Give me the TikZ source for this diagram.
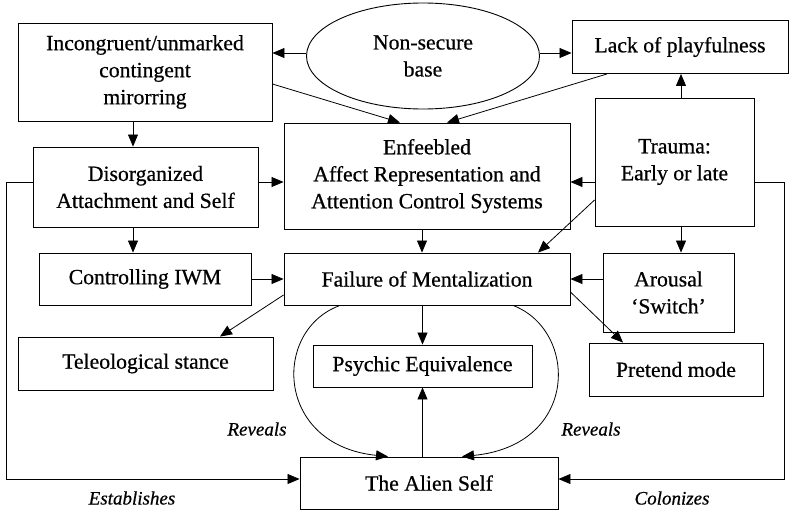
\documentclass[tikz,border=0pt]{standalone}
\usepackage{fontspec}
\setmainfont{Liberation Serif}[FakeBold=0.6]
\usetikzlibrary{arrows.meta,shapes.geometric,calc}
\begin{document}
\begin{tikzpicture}[x=1pt,y=-1pt,
  box/.style={draw,line width=0.9pt,align=center,inner sep=2pt,font=\fontsize{21.7}{27}\selectfont},
  lbl/.style={font=\fontsize{19}{22}\selectfont\itshape},
  arr/.style={line width=0.8pt,-{Triangle[length=12pt,width=10pt]}}]
\useasboundingbox (0,0) rectangle (789,511);
\node[box,minimum width=254pt,minimum height=98pt] (inc) at (145,72) {Incongruent/unmarked\\contingent\\mirorring};
\node[box,ellipse,minimum width=233pt,minimum height=106pt] (nsb) at (423,56) {Non-secure\\base};
\node[box,minimum width=216pt,minimum height=53pt] (lack) at (680,47) {Lack of playfulness};
\node[box,minimum width=159pt,minimum height=128pt] (trauma) at (674.5,162) {Trauma:\\Early or late};
\node[box,minimum width=286pt,minimum height=106pt] (enf) at (427,176) {Enfeebled\\Affect Representation and\\Attention Control Systems};
\node[box,minimum width=225pt,minimum height=80pt] (dis) at (145.5,187) {Disorganized\\Attachment and Self};
\node[box,minimum width=212pt,minimum height=52pt] (ctrl) at (145,279) {Controlling IWM};
\node[box,minimum width=286pt,minimum height=52pt] (fail) at (427,279) {Failure of Mentalization};
\node[box,minimum width=131pt,minimum height=79pt] (arousal) at (668.5,292.5) {Arousal\\`Switch'};
\node[box,minimum width=255pt,minimum height=53pt] (tele) at (145.5,363.5) {Teleological stance};
\node[box,minimum width=219pt,minimum height=42pt] (psy) at (422.5,366) {Psychic Equivalence};
\node[box,minimum width=174pt,minimum height=53pt] (pretend) at (676,369.5) {Pretend mode};
\node[box,minimum width=258pt,minimum height=52pt] (alien) at (429,483) {The Alien Self};
\node[lbl] (rev1) at (257,429) {Reveals};
\node[lbl] (rev2) at (591,429) {Reveals};
\node[lbl] (est) at (132,498) {Establishes};
\node[lbl] (col) at (672,498) {Colonizes};
\coordinate (lc1) at (6,182);
\coordinate (rc1) at (784,182);
% arrows
\draw[arr] ($(nsb.west)+(0,-3)$) -- ($(nsb.west -| inc.east)+(0,-3)$);
\draw[arr] ($(nsb.east)+(0,-3)$) -- ($(nsb.east -| lack.west)+(0,-3)$);
\draw[arr] ($(inc.east)+(0,12)$) -- ($(enf.north)+(-27,0)$);
\draw[arr] ($(lack.south)+(-73,0)$) -- ($(enf.north)+(20,0)$);
\draw[arr] ($(inc.south)+(-12,0)$) -- ($(dis.north)+(-12.5,0)$);
\draw[arr] ($(dis.east)+(0,-5)$) -- ($(enf.west)+(0,6)$);
\draw[arr] ($(trauma.west)+(0,20)$) -- ($(enf.east)+(0,6)$);
\draw[arr] ($(trauma.north)+(6.5,0)$) -- ($(lack.south)+(1,0)$);
\draw[arr] ($(trauma.south)+(6.5,0)$) -- ($(arousal.north)+(12.5,0)$);
\draw[arr] ($(trauma.west)+(0,38)$) -- ($(fail.north)+(111,0)$);
\draw[arr] ($(enf.south)+(-5,0)$) -- ($(fail.north)+(-5,0)$);
\draw[arr] ($(dis.south)+(-12.5,0)$) -- ($(ctrl.north)+(-12,0)$);
\draw[arr] (ctrl.east) -- (fail.west);
\draw[arr] ($(arousal.west)+(0,-13.5)$) -- (fail.east);
\draw[arr] ($(fail.west)+(0,16)$) -- ($(tele.north)+(74.5,0)$);
\draw[arr] ($(fail.east)+(0,13)$) -- ($(pretend.north)+(-53,0)$);
\draw[arr] (fail.south -| psy.north) -- (psy.north);
\draw[arr] (alien.north -| psy.south) -- (psy.south);
\draw[arr] ($(fail.south)+(-87,0)$) .. controls (272,330) and (275,445) .. ($(alien.north)+(-41,0)$);
\draw[arr] ($(fail.south)+(86,0)$) .. controls (578,330) and (580,445) .. ($(alien.north)+(33,0)$);
\draw[arr] ($(dis.west)+(0,-5)$) -- (lc1) |- ($(alien.west)+(0,-4)$);
\draw[arr] ($(trauma.east)+(0,20)$) -- (rc1) |- ($(alien.east)+(0,-4)$);
\end{tikzpicture}
\end{document}
